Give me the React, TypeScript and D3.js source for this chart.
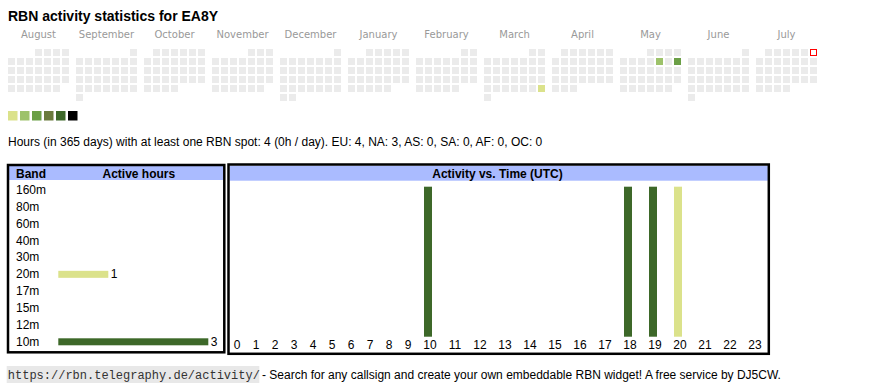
import React from 'react';
import * as d3 from 'd3';

// calendar: twelve months, Monday-first weeks
const monthNames = ['August', 'September', 'October', 'November', 'December', 'January', 'February', 'March', 'April', 'May', 'June', 'July'];
const calendarStart = new Date(2024, 7, 1);
const todayDate = new Date(2025, 6, 6);

const activeDays = [new Date(2025, 2, 30), new Date(2025, 4, 9), new Date(2025, 4, 11)];
const activeDayLevels = [1, 2, 3];

const levelColors = ['#dbe28b', '#9dc26a', '#6b9f46', '#6a7a3c', '#3d6829', '#000000'];

const summaryText = 'Hours (in 365 days) with at least one RBN spot: 4 (0h / day). EU: 4, NA: 3, AS: 0, SA: 0, AF: 0, OC: 0';

const bands = ['160m', '80m', '60m', '40m', '30m', '20m', '17m', '15m', '12m', '10m'];
const bandHours = [0, 0, 0, 0, 0, 1, 0, 0, 0, 3];
const bandColors = ['#dbe28b', '#dbe28b', '#dbe28b', '#dbe28b', '#dbe28b', '#dbe28b', '#dbe28b', '#dbe28b', '#dbe28b', '#3d6829'];

const hourLabels = ['0', '1', '2', '3', '4', '5', '6', '7', '8', '9', '10', '11', '12', '13', '14', '15', '16', '17', '18', '19', '20', '21', '22', '23'];
const activeHours = ['10', '18', '19', '20'];
const activeHourCounts = [1, 1, 1, 1];
const activeHourBands = ['10m', '10m', '10m', '20m'];

const footerUrl = 'https://rbn.telegraphy.de/activity/';
const footerText = '- Search for any callsign and create your own embeddable RBN widget! A free service by DJ5CW.';

const sans = 'Arial, "Liberation Sans", sans-serif';

const App: React.FC = () => {
  const width = 870;
  const height = 390;

  // calendar scales
  const monthX = d3.scaleLinear().domain([0, 11]).range([8, 756]);
  const cellStep = d3.scaleLinear().domain([0, 1]).range([0, 9]);
  const cellTop = 49;
  const cellSize = 7;

  const activeKey = activeDays.map(d => d3.timeFormat('%Y-%m-%d')(d));
  const dayColor = d3.scaleOrdinal<string, string>()
    .domain(activeKey)
    .range(activeDayLevels.map(l => levelColors[l - 1]));

  const cells: { x: number; y: number; fill: string; today: boolean; key: string }[] = [];
  monthNames.forEach((m, i) => {
    const start = d3.timeMonth.offset(calendarStart, i);
    const end = d3.timeMonth.offset(start, 1);
    d3.timeDay.range(start, end).forEach(day => {
      const key = d3.timeFormat('%Y-%m-%d')(day);
      const col = (day.getDay() + 6) % 7;
      const row = d3.timeMonday.count(d3.timeMonday.floor(start), day);
      cells.push({
        x: monthX(i) + cellStep(col),
        y: cellTop + cellStep(row),
        fill: activeKey.includes(key) ? dayColor(key) : '#ebebeb',
        today: +day === +todayDate,
        key
      });
    });
  });

  // band table
  const bandY = d3.scalePoint<string>().domain(bands).range([194, 345.8]);
  const bandX = d3.scaleLinear().domain([0, 3]).range([58.3, 208.3]);
  const bandColor = d3.scaleOrdinal<string, string>().domain(bands).range(bandColors);

  // hour chart: column widths follow label width, like table cells
  const colWidths = hourLabels.map(h => (h.length === 1 ? 19 : 25));
  const colStarts = colWidths.map((_, i) => 227 + d3.sum(colWidths.slice(0, i)));
  const hourX = d3.scaleOrdinal<string, number>().domain(hourLabels).range(colStarts);
  const hourW = d3.scaleOrdinal<string, number>().domain(hourLabels).range(colWidths);
  const hourY = d3.scaleLinear().domain([0, d3.max(activeHourCounts) || 1]).range([336.7, 186.7]);
  const barW = 8;

  return (
    <svg width={width} height={height} style={{ position: 'absolute', left: 0, top: 0, display: 'block' }}>
      <text x={8} y={21} fontFamily={sans} fontSize={14} fontWeight="bold" fill="#000">
        RBN activity statistics for EA8Y
      </text>

      {monthNames.map((m, i) => (
        <text key={m} x={monthX(i) + 30.5} y={38} textAnchor="middle"
          fontFamily='"DejaVu Sans", Verdana, sans-serif' fontSize={10} fill="#999">
          {m}
        </text>
      ))}

      {cells.map(c => (
        c.today ? (
          <rect key={c.key} x={c.x + 0.5} y={c.y + 0.5} width={cellSize - 1} height={cellSize - 1}
            fill="#fff" stroke="#ff0000" strokeWidth={1} />
        ) : (
          <rect key={c.key} x={c.x} y={c.y} width={cellSize} height={cellSize} fill={c.fill} />
        )
      ))}

      {levelColors.map((c, i) => (
        <rect key={c} x={8 + i * 12} y={111} width={9.5} height={9.5} fill={c} />
      ))}

      <text x={8} y={146} fontFamily={sans} fontSize={12} fill="#000">{summaryText}</text>

      {/* band table */}
      <rect x={9} y={166} width={214} height={14} fill="#aabbff" />
      <rect x={8} y={165} width={216.3} height={187.3} fill="none" stroke="#000" strokeWidth={2.5} />
      <text x={16} y={177.5} fontFamily={sans} fontSize={12} fontWeight="bold">Band</text>
      <text x={102.5} y={177.5} fontFamily={sans} fontSize={12} fontWeight="bold">Active hours</text>
      {bands.map((b, i) => (
        <g key={b}>
          <text x={16} y={bandY(b)} fontFamily={sans} fontSize={12} fill="#000">{b}</text>
          {bandHours[i] > 0 && (
            <>
              <rect x={bandX(0)} y={(bandY(b) || 0) - 7.5} width={bandX(bandHours[i]) - bandX(0)} height={7}
                fill={bandColor(b)} />
              <text x={bandX(bandHours[i]) + 2.5} y={bandY(b)} fontFamily={sans} fontSize={12} fill="#000">
                {bandHours[i]}
              </text>
            </>
          )}
        </g>
      ))}

      {/* hour chart */}
      <rect x={229.5} y={165.7} width={538.3} height={15} fill="#aabbff" />
      <rect x={228.5} y={164.5} width={540.3} height={189.3} fill="none" stroke="#000" strokeWidth={2.5} />
      <text x={497.5} y={177.5} textAnchor="middle" fontFamily={sans} fontSize={12} fontWeight="bold">
        Activity vs. Time (UTC)
      </text>
      {activeHours.map((h, i) => (
        <rect key={h} x={hourX(h) + (hourW(h) - barW) / 2 - 1.5} y={hourY(activeHourCounts[i])}
          width={barW} height={hourY(0) - hourY(activeHourCounts[i])}
          fill={bandColor(activeHourBands[i])} />
      ))}
      {hourLabels.map(h => (
        <text key={h} x={hourX(h) + hourW(h) / 2 + 0.5} y={349} textAnchor="middle"
          fontFamily={sans} fontSize={12} fill="#000">
          {h}
        </text>
      ))}

      {/* footer */}
      <rect x={6.7} y={366} width={252.6} height={17} fill="#e8e8e8" />
      <text x={7.8} y={378.5} fontFamily='"Liberation Mono", "Courier New", monospace' fontSize={12} fill="#333">
        {footerUrl}
      </text>
      <text x={262} y={378.5} fontFamily={sans} fontSize={12} fill="#000">{footerText}</text>
    </svg>
  );
};

export default App;
